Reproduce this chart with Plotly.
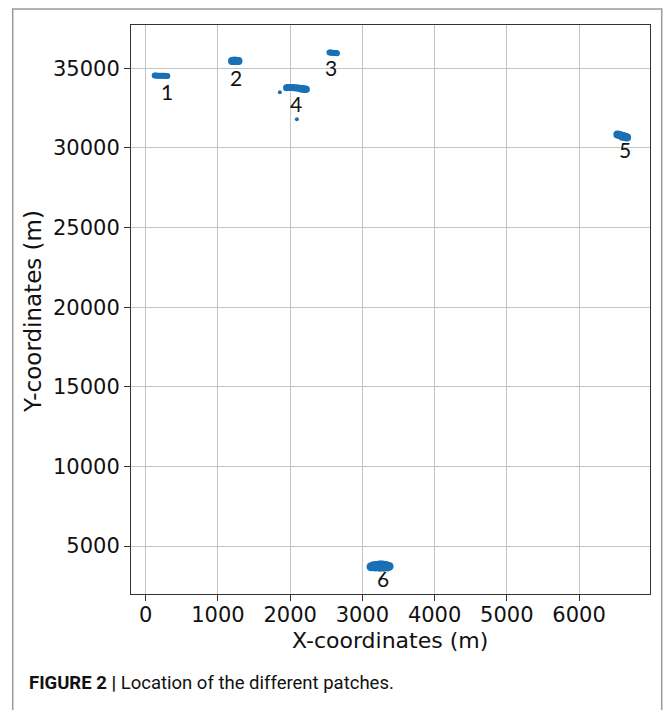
import plotly.graph_objects as go

# ---- data ----
patch_names = ["1", "2", "3", "4", "5", "6"]

patch1_x = [125, 145, 165, 185, 205, 225, 245, 265, 285, 300]
patch1_y = [34540, 34540, 34535, 34530, 34530, 34530, 34525, 34525, 34520, 34520]

patch2_x = [1195, 1210, 1225, 1240, 1255, 1270, 1285]
patch2_y = [35465, 35475, 35480, 35475, 35470, 35465, 35460]

patch3_x = [2545, 2560, 2575, 2590, 2605, 2620, 2635, 2648]
patch3_y = [35995, 35990, 35980, 35975, 35965, 35960, 35955, 35950]

patch4_x = [1950, 1970, 1990, 2010, 2030, 2050, 2070, 2090, 2110, 2130, 2150, 2170, 2190, 2210, 2225, 2160, 2200]
patch4_y = [33780, 33790, 33795, 33790, 33790, 33785, 33775, 33765, 33755, 33745, 33730, 33720, 33710, 33700, 33690, 33680, 33665]
patch4_out_x = [1858, 2093]
patch4_out_y = [33500, 31800]

patch5_x = [6530, 6550, 6570, 6590, 6610, 6630, 6650, 6665, 6600, 6640]
patch5_y = [30840, 30820, 30790, 30770, 30750, 30720, 30690, 30660, 30700, 30670]

patch6_x = [3120, 3145, 3170, 3195, 3220, 3245, 3270, 3295, 3320, 3345, 3370, 3180, 3240, 3300, 3350]
patch6_y = [3700, 3740, 3760, 3780, 3800, 3810, 3810, 3800, 3780, 3750, 3720, 3680, 3670, 3670, 3690]

label_x = [295, 1250, 2565, 2080, 6632, 3283]
label_y = [33550, 34420, 35080, 32760, 29900, 2930]

x_ticks = [0, 1000, 2000, 3000, 4000, 5000, 6000]
y_ticks = [5000, 10000, 15000, 20000, 25000, 30000, 35000]
x_range = [-203, 6982]
y_range = [1987, 37718]

x_title = "X-coordinates (m)"
y_title = "Y-coordinates (m)"
caption_bold = "FIGURE 2 |"
caption_text = " Location of the different patches."

# ---- figure ----
W, H = 663, 710
ml, mr, mt, mb = 131, 13, 25, 116
pw, ph = W - ml - mr, H - mt - mb

def px_to_paper(px, py):
    return (px - ml) / pw, (H - mb - py) / ph

blue = "#1a70b5"
fig = go.Figure()
for (xs, ys), sz in zip([(patch1_x, patch1_y), (patch2_x, patch2_y), (patch3_x, patch3_y),
                         (patch4_x, patch4_y), (patch5_x, patch5_y), (patch6_x, patch6_y)],
                        [6, 8, 6, 7, 8, 9]):
    fig.add_trace(go.Scatter(x=xs, y=ys, mode="markers",
                             marker=dict(size=sz, color=blue, line=dict(width=0)),
                             showlegend=False, hoverinfo="skip"))
fig.add_trace(go.Scatter(x=patch4_out_x, y=patch4_out_y, mode="markers",
                         marker=dict(size=4, color=blue, line=dict(width=0)),
                         showlegend=False, hoverinfo="skip"))

for name, lx, ly in zip(patch_names, label_x, label_y):
    fig.add_annotation(x=lx, y=ly, text=name, showarrow=False,
                       font=dict(family="Lato, Open Sans, sans-serif", size=21, color="#111"))

axis_common = dict(showgrid=True, gridcolor="#c4c4c4", gridwidth=1,
                   showline=True, linecolor="#333333", linewidth=1, mirror=True,
                   ticks="outside", ticklen=6, tickcolor="#333333",
                   tickfont=dict(family="DejaVu Sans", size=21, color="#111"),
                   zeroline=False)

fig.update_xaxes(range=x_range, tickvals=x_ticks, ticktext=[str(v) for v in x_ticks],
                 ticklabelstandoff=-4, **axis_common)
fig.update_yaxes(range=y_range, tickvals=y_ticks, ticktext=[str(v) for v in y_ticks],
                 **axis_common)

tx, ty = px_to_paper(390, 640)
fig.add_annotation(xref="paper", yref="paper", x=tx, y=ty, xanchor="center", yanchor="middle",
                   text=x_title, showarrow=False,
                   font=dict(family="DejaVu Sans", size=22, color="#111"))
tx, ty = px_to_paper(33, 312)
fig.add_annotation(xref="paper", yref="paper", x=tx, y=ty, xanchor="center", yanchor="middle",
                   text=y_title, showarrow=False, textangle=-90,
                   font=dict(family="DejaVu Sans", size=23, color="#111"))

# outer frame
x0, y0 = px_to_paper(12.7, 9)
x1, y1 = px_to_paper(661.7, 720)
fig.add_shape(type="rect", xref="paper", yref="paper", x0=x0, y0=y1, x1=x1, y1=y0,
              line=dict(color="#9a9a9a", width=1.5), fillcolor="rgba(0,0,0,0)", layer="below")

cx, cy = px_to_paper(27, 683)
fig.add_annotation(xref="paper", yref="paper", x=cx, y=cy, xanchor="left", yanchor="middle",
                   text="<b>" + caption_bold + "</b>" + caption_text, showarrow=False,
                   font=dict(family="Liberation Sans Narrow, Roboto, sans-serif", size=18.5, color="#111"))

fig.update_layout(width=W, height=H, margin=dict(l=ml, r=mr, t=mt, b=mb, autoexpand=False),
                  paper_bgcolor="white", plot_bgcolor="white")

fig.write_html("out.html")
